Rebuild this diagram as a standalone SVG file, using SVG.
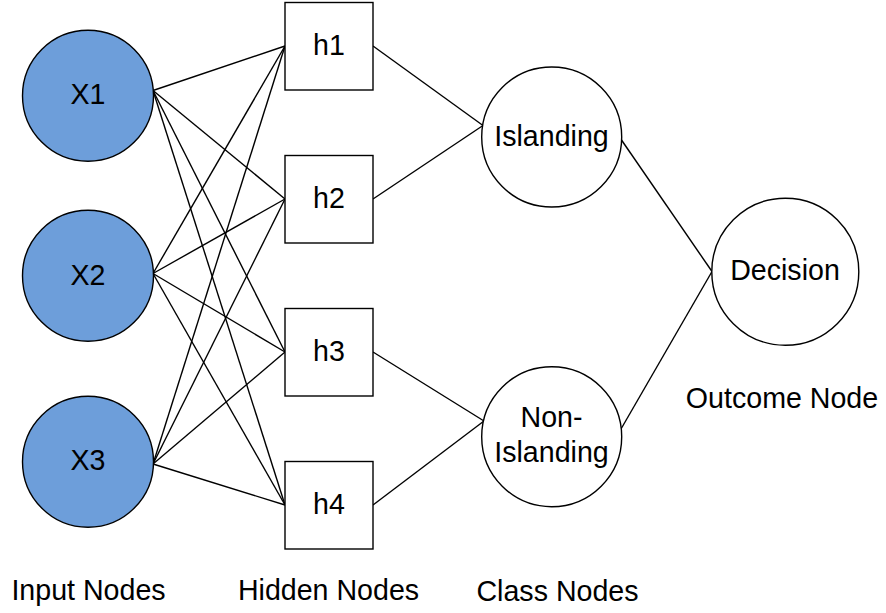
<svg xmlns="http://www.w3.org/2000/svg" width="886" height="613" viewBox="0 0 886 613">
<style>
.in{fill:#6d9eda;stroke:#000;stroke-width:1.4}
.wc{fill:#fff;stroke:#000;stroke-width:1.4}
.bx{fill:#fff;stroke:#000;stroke-width:1.4}
.e{stroke:#000;stroke-width:1.4;fill:none}
text{font-family:"Liberation Sans",Arial,sans-serif;font-size:28.6px;fill:#000;text-anchor:middle}
</style>
<rect width="886" height="613" fill="#fff"/>
<g id="connectors">
<line class="e" x1="153" y1="90.5" x2="285" y2="46"/>
<line class="e" x1="153" y1="90.5" x2="285" y2="199"/>
<line class="e" x1="153" y1="90.5" x2="285" y2="352"/>
<line class="e" x1="153" y1="90.5" x2="285" y2="505"/>
<line class="e" x1="153" y1="273.5" x2="285" y2="46"/>
<line class="e" x1="153" y1="273.5" x2="285" y2="199"/>
<line class="e" x1="153" y1="273.5" x2="285" y2="352"/>
<line class="e" x1="153" y1="273.5" x2="285" y2="505"/>
<line class="e" x1="153" y1="464" x2="285" y2="46"/>
<line class="e" x1="153" y1="464" x2="285" y2="199"/>
<line class="e" x1="153" y1="464" x2="285" y2="352"/>
<line class="e" x1="153" y1="464" x2="285" y2="505"/>
<line class="e" x1="373" y1="46" x2="483" y2="125.5"/>
<line class="e" x1="373" y1="199" x2="483" y2="125.5"/>
<line class="e" x1="373" y1="352" x2="484" y2="421"/>
<line class="e" x1="373" y1="505" x2="484" y2="421"/>
<line class="e" x1="621.5" y1="140" x2="712" y2="271.5"/>
<line class="e" x1="621" y1="429" x2="712" y2="271.5"/>
</g>
<g id="X1"><circle class="in" cx="88" cy="95.8" r="65.5"/><text x="88" y="104">X1</text></g>
<g id="X2"><circle class="in" cx="88" cy="275.7" r="65.5"/><text x="88" y="285">X2</text></g>
<g id="X3"><circle class="in" cx="88" cy="461.8" r="65.5"/><text x="88" y="470">X3</text></g>
<g id="h1"><rect class="bx" x="285" y="2.5" width="88" height="87.5"/><text x="329" y="55">h1</text></g>
<g id="h2"><rect class="bx" x="285" y="155.5" width="88" height="87.5"/><text x="329" y="208">h2</text></g>
<g id="h3"><rect class="bx" x="285" y="308.5" width="88" height="87.5"/><text x="329" y="361">h3</text></g>
<g id="h4"><rect class="bx" x="285" y="461.5" width="88" height="87.5"/><text x="329" y="513.5">h4</text></g>
<g id="islanding"><circle class="wc" cx="551.7" cy="137" r="70"/><text x="551.5" y="146">Islanding</text></g>
<g id="non-islanding"><circle class="wc" cx="551.7" cy="436.7" r="70"/><text x="551.5" y="427">Non-</text><text x="551.5" y="462">Islanding</text></g>
<g id="decision"><circle class="wc" cx="785.3" cy="271.7" r="73.5"/><text x="785" y="280">Decision</text></g>
<g id="labels">
<text x="88.5" y="600">Input Nodes</text>
<text x="328.5" y="600">Hidden Nodes</text>
<text x="557.5" y="600.5">Class Nodes</text>
<text x="782" y="407.5">Outcome Node</text>
</g>
</svg>
